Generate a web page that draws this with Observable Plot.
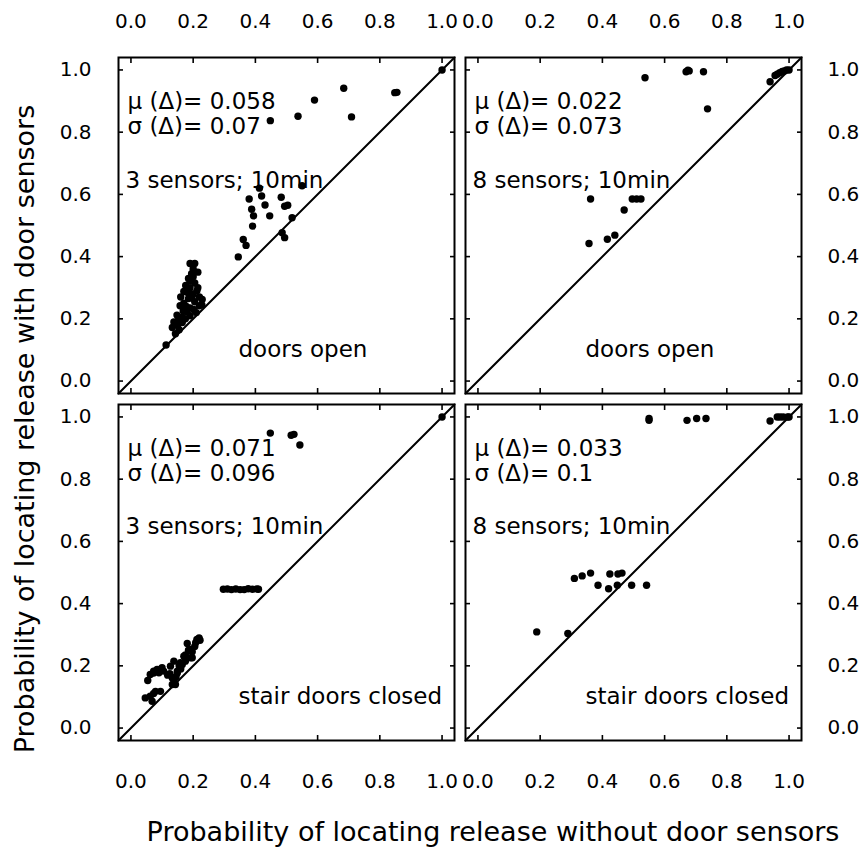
<!DOCTYPE html>
<html>
<head>
<meta charset="utf-8">
<script src="https://cdn.jsdelivr.net/npm/d3@7"></script>
<script src="https://cdn.jsdelivr.net/npm/@observablehq/plot@0.6"></script>
<style>
  html, body { margin: 0; padding: 0; background: #fff; }
  #chart { width: 865px; height: 850px; }
</style>
</head>
<body>
<div id="chart"></div>
<script>
// ---- categories / labels ----
const sensorGroups = ["3 sensors; 10min", "8 sensors; 10min"];
const conditions = ["doors open", "stair doors closed"];
const tickValues = [0, 0.2, 0.4, 0.6, 0.8, 1.0];
const axisDomain = [-0.04, 1.04];
const xTitle = "Probability of locating release without door sensors";
const yTitle = "Probability of locating release with door sensors";

// panel order: [3 sensors open, 8 sensors open, 3 sensors closed, 8 sensors closed]
const muLabels = ["0.058", "0.022", "0.071", "0.033"];
const sigmaLabels = ["0.07", "0.073", "0.096", "0.1"];

// ---- series values: [without door sensors, with door sensors] ----
const open3 = [
  [1.0,1.0],[0.684,0.941],[0.848,0.927],[0.855,0.928],[0.590,0.903],[0.537,0.851],[0.709,0.849],[0.448,0.837],
  [0.550,0.628],[0.413,0.620],[0.420,0.595],[0.380,0.585],[0.483,0.591],[0.431,0.566],[0.494,0.562],[0.504,0.565],
  [0.388,0.552],[0.394,0.531],[0.446,0.531],[0.518,0.525],[0.391,0.498],[0.361,0.455],[0.370,0.436],[0.486,0.477],
  [0.494,0.461],[0.345,0.399],[0.113,0.116],
  [0.190,0.378],[0.205,0.378],[0.215,0.350],[0.195,0.345],[0.200,0.335],[0.190,0.322],[0.205,0.315],[0.176,0.307],
  [0.190,0.300],[0.212,0.290],[0.170,0.288],[0.200,0.280],[0.220,0.270],[0.160,0.270],[0.185,0.265],[0.229,0.262],
  [0.205,0.255],[0.170,0.250],[0.158,0.242],[0.220,0.242],[0.190,0.235],[0.202,0.230],[0.180,0.222],[0.148,0.212],
  [0.165,0.205],[0.190,0.210],[0.138,0.190],[0.165,0.188],[0.150,0.180],[0.133,0.172],[0.143,0.152],[0.155,0.165],
  [0.175,0.200],[0.210,0.220],[0.178,0.240],[0.196,0.268],[0.168,0.225],[0.215,0.300],[0.182,0.285],[0.152,0.195],
  [0.228,0.245],[0.200,0.360],[0.185,0.330]
];
const open8 = [
  [0.537,0.975],[0.669,0.994],[0.675,0.999],[0.679,0.997],[0.725,0.994],[0.738,0.875],[0.939,0.962],[0.955,0.982],
  [0.962,0.986],[0.970,0.991],[0.978,0.995],[0.985,0.997],[0.992,1.0],[1.0,1.0],
  [0.362,0.585],[0.496,0.585],[0.510,0.585],[0.524,0.585],[0.470,0.550],[0.440,0.469],[0.416,0.456],[0.357,0.442]
];
const closed3 = [
  [1.0,1.0],[0.448,0.948],[0.515,0.941],[0.524,0.944],[0.543,0.910],
  [0.297,0.446],[0.310,0.447],[0.323,0.445],[0.337,0.447],[0.351,0.445],[0.364,0.445],[0.377,0.448],[0.391,0.446],
  [0.405,0.447],[0.410,0.446],
  [0.219,0.290],[0.222,0.282],[0.208,0.274],[0.181,0.272],[0.192,0.253],[0.197,0.245],[0.170,0.231],[0.197,0.226],
  [0.192,0.226],[0.159,0.210],[0.138,0.215],[0.165,0.204],[0.127,0.199],[0.149,0.183],[0.149,0.177],[0.138,0.156],
  [0.133,0.161],[0.133,0.140],[0.143,0.140],[0.084,0.188],[0.073,0.177],[0.100,0.194],[0.062,0.172],[0.105,0.183],
  [0.073,0.183],[0.054,0.153],[0.079,0.118],[0.062,0.102],[0.068,0.086],[0.095,0.118],[0.046,0.097],[0.073,0.111],
  [0.118,0.170],[0.155,0.200],[0.175,0.215],[0.185,0.250],[0.205,0.262],[0.160,0.190],[0.125,0.175],[0.090,0.178],
  [0.212,0.285],[0.175,0.235],[0.145,0.165]
];
const closed8 = [
  [0.550,0.995],[0.550,0.989],[0.672,0.989],[0.703,0.995],[0.733,0.995],[0.939,0.987],[0.962,1.0],[0.971,1.0],
  [0.981,1.0],[0.995,1.0],[1.0,1.0],
  [0.310,0.481],[0.335,0.489],[0.362,0.498],[0.424,0.495],[0.450,0.495],[0.463,0.498],[0.386,0.459],[0.420,0.448],
  [0.448,0.459],[0.494,0.459],[0.542,0.459],[0.189,0.309],[0.289,0.304]
];

// ---- tables built from the arrays ----
const panelSeries = [open3, open8, closed3, closed8];
const panels = panelSeries.map((_, i) => ({
  sensors: sensorGroups[i % 2],
  condition: conditions[Math.floor(i / 2)],
  mu: muLabels[i],
  sigma: sigmaLabels[i]
}));
const points = panelSeries.flatMap((series, i) =>
  series.map(([x, y]) => ({sensors: panels[i].sensors, condition: panels[i].condition, x, y}))
);
const diagonal = axisDomain.map(v => ({v}));
const fmt = d3.format(".1f");
const blank = () => "";

const chart = Plot.plot({
  width: 865,
  height: 850,
  marginTop: 57,
  marginRight: 64,
  marginBottom: 110,
  marginLeft: 118,
  style: "font-family: 'DejaVu Sans'; font-size: 20px; color: black; background: white; overflow: visible;",
  x: {domain: axisDomain},
  y: {domain: axisDomain},
  fx: {domain: sensorGroups, axis: null, paddingInner: 0.0317, paddingOuter: 0, round: false},
  fy: {domain: conditions, axis: null, paddingInner: 0.0317, paddingOuter: 0, round: false},
  marks: [
    Plot.line(diagonal, {x: "v", y: "v", stroke: "black", strokeWidth: 2}),
    Plot.dot(points, {x: "x", y: "y", fx: "sensors", fy: "condition", r: 3.7, fill: "black", stroke: null}),
    // inward ticks on all four sides of every panel
    Plot.axisX(tickValues, {anchor: "bottom", facetAnchor: null, tickSize: 5, dy: -5, tickFormat: blank, label: null, strokeWidth: 1.6}),
    Plot.axisX(tickValues, {anchor: "top", facetAnchor: null, tickSize: 5, dy: 5, tickFormat: blank, label: null, strokeWidth: 1.6}),
    Plot.axisY(tickValues, {anchor: "left", facetAnchor: null, tickSize: 5, dx: 5, tickFormat: blank, label: null, strokeWidth: 1.6}),
    Plot.axisY(tickValues, {anchor: "right", facetAnchor: null, tickSize: 5, dx: -5, tickFormat: blank, label: null, strokeWidth: 1.6}),
    // tick labels on outer sides
    Plot.axisX(tickValues, {anchor: "top", tickSize: 0, tickPadding: 30, tickFormat: fmt, label: null, fontSize: 20}),
    Plot.axisX(tickValues, {anchor: "bottom", tickSize: 0, tickPadding: 33, tickFormat: fmt, label: null, fontSize: 20}),
    Plot.axisY(tickValues, {anchor: "left", tickSize: 0, tickPadding: 27, tickFormat: fmt, label: null, fontSize: 20}),
    Plot.axisY(tickValues, {anchor: "right", tickSize: 0, tickPadding: 26, tickFormat: fmt, label: null, fontSize: 20}),
    Plot.frame({stroke: "black", strokeWidth: 2}),
    // panel annotations
    Plot.text(panels, {fx: "sensors", fy: "condition", text: d => `μ (Δ)= ${d.mu}\nσ (Δ)= ${d.sigma}`,
      frameAnchor: "top-left", textAnchor: "start", lineAnchor: "top", dx: 9, dy: 34, fontSize: 23, lineHeight: 1.09, fill: "black"}),
    Plot.text(panels, {fx: "sensors", fy: "condition", text: "sensors",
      frameAnchor: "top-left", textAnchor: "start", lineAnchor: "bottom", dx: 7, dy: 130, fontSize: 23, fill: "black"}),
    Plot.text(panels, {fx: "sensors", fy: "condition", text: "condition",
      frameAnchor: "bottom-left", textAnchor: "start", lineAnchor: "bottom", dx: 120, dy: -37, fontSize: 23, fill: "black"}),
    // axis titles
    Plot.text([xTitle], {facet: "super", frameAnchor: "bottom", textAnchor: "middle", lineAnchor: "bottom", dx: 33, dy: 100, fontSize: 27, fill: "black"}),
    Plot.text([yTitle], {facet: "super", frameAnchor: "left", textAnchor: "middle", lineAnchor: "middle", rotate: -90, dx: -93, dy: 30, fontSize: 27, fill: "black"})
  ]
});
document.getElementById("chart").appendChild(chart);
</script>
</body>
</html>
